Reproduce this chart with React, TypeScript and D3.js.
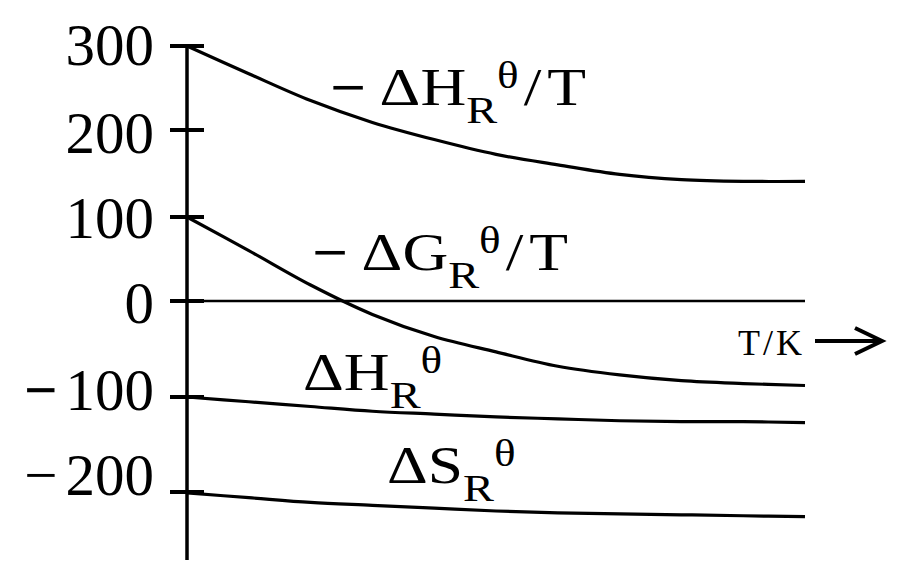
import React from 'react';
import * as d3 from 'd3';

// relative temperature steps (no x ticks on the original figure)
const tSteps = [0, 1, 2, 3, 4, 5, 6, 7, 8, 9, 10];

// −ΔH/T, −ΔG/T, ΔH, ΔS
const negHoverT = [300, 267, 235, 209, 189, 172, 160, 149, 143, 141, 141];
const negGoverT = [100, 60, 19, -14, -37, -53, -68, -77, -83, -86, -88];
const deltaH = [-100, -105, -110, -115, -118, -121, -123, -125, -126, -126, -127];
const deltaS = [-201, -206, -211, -214, -217, -220, -222, -223, -224, -225, -226];

const yTicks = [300, 200, 100, 0, -100, -200];
const yTickLabels = ['300', '200', '100', '0', '−100', '−200'];

const WIDTH = 900;
const HEIGHT = 577;
const FONT = '"Liberation Serif", "Times New Roman", serif';

// the hand-drawn axis is not evenly spaced, so a polylinear scale is used
const yScale = d3.scaleLinear()
  .domain([-200, -100, 0, 100, 200, 300])
  .range([492, 397, 301, 217, 130, 46]);

const xScale = d3.scaleLinear().domain([0, 10]).range([187, 805]);

const line = d3.line<number>()
  .x((_, i) => xScale(tSteps[i]))
  .y(d => yScale(d))
  .curve(d3.curveCatmullRom.alpha(0.5));

// baseline nudges for the tick labels, as placed in the original
const labelDy: Record<number, number> = { 300: 19, 200: 23, 100: 21, 0: 22, '-100': 13, '-200': 3 };

interface SymbolLabelProps {
  x: number;
  y: number;
  minus?: boolean;
  letter: string;
  slash?: boolean;
}

const SymbolLabel: React.FC<SymbolLabelProps> = ({ x, y, minus, letter, slash }) => (
  <text transform={`translate(${x},${y}) scale(1.22,1)`} fontFamily={FONT} fontSize={52} fill="#000">
    {minus && <tspan fontWeight="bold">−</tspan>}
    <tspan dx={minus ? 11 : 0}>Δ</tspan>
    <tspan>{letter}</tspan>
    <tspan fontSize={38} dy={18}>R</tspan>
    <tspan fontSize={37} dy={-35}>θ</tspan>
    {slash && <tspan dy={17} dx={4}>/</tspan>}
    {slash && <tspan dx={5}>T</tspan>}
  </text>
);

export default function App() {
  const x0 = xScale(0);
  const x1 = xScale(10);

  return (
    <svg
      width={WIDTH}
      height={HEIGHT}
      style={{ position: 'absolute', left: 0, top: 0, background: '#fff' }}
    >
      {/* y axis */}
      <line x1={x0} x2={x0} y1={44} y2={560} stroke="#000" strokeWidth={3.5} />
      {yTicks.map((t, i) => (
        <g key={t}>
          <line x1={x0 - 17} x2={x0 + 17} y1={yScale(t)} y2={yScale(t)} stroke="#000" strokeWidth={4} />
          <text
            x={154}
            y={yScale(t) + labelDy[t]}
            textAnchor="end"
            fontFamily={FONT}
            fontSize={59}
            fill="#000"
          >
            {t < 0 ? (
              <>
                <tspan fontWeight={t === -100 ? 'bold' : 'normal'}>−</tspan>
                <tspan dx={8}>{yTickLabels[i].slice(1)}</tspan>
              </>
            ) : yTickLabels[i]}
          </text>
        </g>
      ))}

      {/* zero line */}
      <line x1={x0} x2={x1} y1={yScale(0)} y2={yScale(0)} stroke="#000" strokeWidth={2.5} />

      {/* curves */}
      {[negHoverT, negGoverT, deltaH, deltaS].map((s, i) => (
        <path key={i} d={line(s) ?? ''} fill="none" stroke="#000" strokeWidth={3.2} strokeLinecap="butt" />
      ))}

      {/* curve labels */}
      <SymbolLabel x={330} y={105} minus letter="H" slash />
      <SymbolLabel x={312} y={270} minus letter="G" slash />
      <SymbolLabel x={303} y={390} letter="H" />
      <SymbolLabel x={387} y={483} letter="S" />

      {/* T/K arrow */}
      <text x={738} y={355} fontFamily={FONT} fontSize={36} letterSpacing={3} fill="#000">T/K</text>
      <line x1={815} x2={880} y1={341} y2={341} stroke="#000" strokeWidth={4} />
      <path d="M855,328 L882,341 L855,354" fill="none" stroke="#000" strokeWidth={4} strokeLinejoin="miter" />
    </svg>
  );
}
